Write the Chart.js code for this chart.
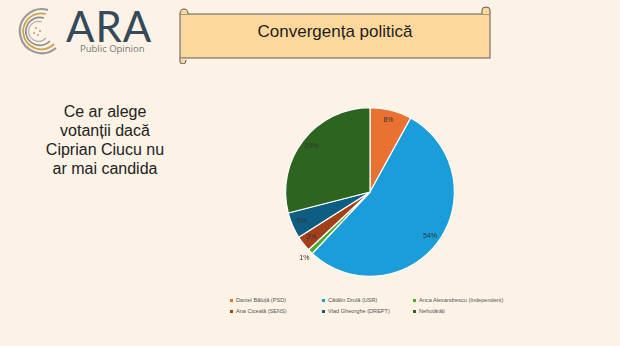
<!DOCTYPE html>
<html>
<head>
<meta charset="utf-8">
<script src="https://cdn.jsdelivr.net/npm/chart.js@4.4.1/dist/chart.umd.min.js"></script>
<style>
  html, body { margin: 0; padding: 0; }
  body { width: 620px; height: 346px; background: #fcf2e6; position: relative; overflow: hidden; font-family: "Open Sans", "Noto Sans", sans-serif; }
  #logo { position: absolute; left: 8px; top: 4px; }
  #ara { position: absolute; left: 66px; top: 1px; font-family: "Lato", "Open Sans", sans-serif; font-size: 42px; font-weight: 400; color: #34495a; letter-spacing: 1px; line-height: normal; }
  #po { position: absolute; left: 80px; top: 44px; font-size: 9.5px; line-height: 10px; color: #777; font-family: "Open Sans", sans-serif; }
  #banner { position: absolute; left: 176px; top: 6px; }
  #bannerText { position: absolute; left: 180px; top: 22px; width: 310px; text-align: center; font-size: 17px; color: #1e1e1e; font-family: "Liberation Sans", sans-serif; }
  #side { position: absolute; left: 20px; top: 103px; width: 170px; text-align: center; font-size: 16px; color: #222; font-family: "Liberation Sans", sans-serif; }
  #side div { height: 19px; line-height: 18px; }
  #wrap { position: absolute; left: 270px; top: 99px; width: 200px; height: 186px; }
  #legend { position: absolute; left: 230px; top: 297px; width: 320px; font-size: 5.6px; color: #555; font-family: "Liberation Sans", sans-serif; }
  .item { position: absolute; white-space: nowrap; }
  .item span.box { display: inline-block; width: 3px; height: 3px; margin-right: 3px; vertical-align: middle; }
</style>
</head>
<body>
<svg id="logo" width="60" height="52" viewBox="0 0 60 52">
  <path d="M40 6 A22 22 0 1 0 48 44" fill="none" stroke="#9a9a9a" stroke-width="2.2"/>
  <path d="M38 10 A18 18 0 1 0 46 40" fill="none" stroke="#c9a44c" stroke-width="1.8"/>
  <path d="M36 14 A14 14 0 1 0 42 37" fill="none" stroke="#8c8c8c" stroke-width="1.6"/>
  <path d="M34 18 A10 10 0 1 0 38 34" fill="none" stroke="#b0b0b0" stroke-width="1.2"/>
  <circle cx="28" cy="24" r="1" fill="#c9a44c"/>
  <circle cx="32" cy="27" r="1" fill="#999"/>
  <circle cx="26" cy="29" r="1" fill="#c9a44c"/>
  <circle cx="30" cy="31" r="0.9" fill="#999"/>
</svg>
<div id="ara">ARA</div>
<div id="po">Public Opinion</div>

<svg id="banner" width="320" height="58" viewBox="0 0 320 58">
  <rect x="4" y="8" width="310" height="44" fill="#fdd89c" stroke="#5a5a5a" stroke-width="1"/>
  <path d="M4 8 Q4 3 8 3 Q12 3 12 8" fill="#fdd89c" stroke="#5a5a5a" stroke-width="1"/>
  <path d="M4 52 L4 56 Q4 58 7 58 Q10 58 10 54" fill="#fdd89c" stroke="#5a5a5a" stroke-width="1"/>
  <path d="M306 8 L306 4 Q306 1 310 1 Q314 1 314 4 L314 8" fill="#fdd89c" stroke="#5a5a5a" stroke-width="1"/>
</svg>
<div id="bannerText">Convergența politică</div>

<div id="side"><div>Ce ar alege</div><div>votanții dacă</div><div>Ciprian Ciucu nu</div><div>ar mai candida</div></div>

<div id="wrap"><canvas id="pie"></canvas></div>
<div id="legend"></div>

<script>
const labels = ['Daniel Băluță (PSD)', 'Cătălin Drulă (USR)', 'Anca Alexandrescu (Independent)', 'Ana Ciceală (SENS)', 'Vlad Gheorghe (DREPT)', 'Nehotărâți'];
const values = [8, 54, 1, 3, 5, 29];
const colors = ['#e97132', '#1a9dd8', '#4ea72e', '#a3401a', '#0e5e84', '#2c6420'];

// percent labels drawn on the slices
const sliceLabels = {
    id: 'sliceLabels',
    afterDatasetsDraw(chart) {
        const ctx = chart.ctx;
        const meta = chart.getDatasetMeta(0);
        ctx.save();
        ctx.font = '7px "Liberation Sans", sans-serif';
        ctx.fillStyle = '#333';
        ctx.textAlign = 'center';
        ctx.textBaseline = 'middle';
        meta.data.forEach((arc, i) => {
            const mid = (arc.startAngle + arc.endAngle) / 2;
            const r = values[i] < 2 ? arc.outerRadius * 1.1 : arc.outerRadius * 0.88;
            const x = arc.x + Math.cos(mid) * r;
            const y = arc.y + Math.sin(mid) * r;
            ctx.fillText(values[i] + '%', x, y);
        });
        ctx.restore();
    }
};

const pieChart = new Chart(document.getElementById('pie').getContext('2d'), {
    type: 'pie',
    data: {
        labels: labels,
        datasets: [{
            data: values,
            backgroundColor: colors,
            borderColor: '#ffffff',
            borderWidth: 1.2,
        }],
    },
    options: {
        responsive: true,
        maintainAspectRatio: false,
        animation: false,
        layout: { padding: 8 },
        plugins: {
            legend: { display: false },
            tooltip: { enabled: false },
        },
    },
    plugins: [sliceLabels],
});

// legend in 3 columns, 2 rows
const legendEl = document.getElementById('legend');
const colX = [0, 92, 183];
labels.forEach((name, i) => {
    const item = document.createElement('div');
    item.className = 'item';
    item.style.left = colX[i % 3] + 'px';
    item.style.top = (Math.floor(i / 3) * 11) + 'px';
    item.innerHTML = '<span class="box" style="background:' + colors[i] + '"></span>' + name;
    legendEl.appendChild(item);
});
</script>
</body>
</html>
